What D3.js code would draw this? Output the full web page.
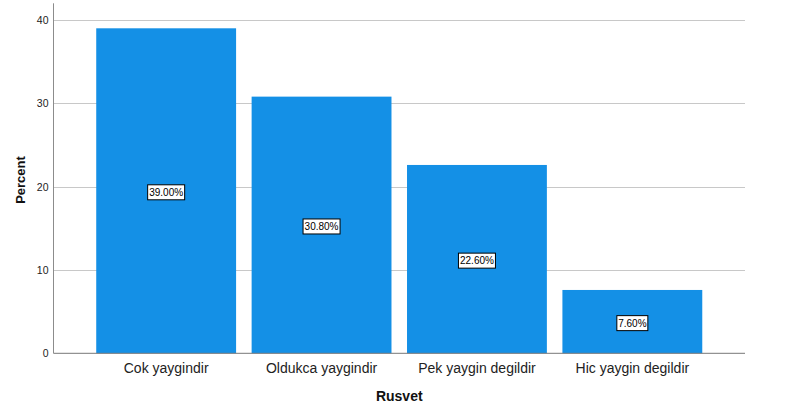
<!DOCTYPE html>
<html>
<head>
<meta charset="utf-8">
<script src="https://cdn.jsdelivr.net/npm/d3@7"></script>
<style>
  body { margin: 0; background: #fff; }
  text { font-family: "Liberation Sans", Arial, sans-serif; }
</style>
</head>
<body>
<div id="chart"></div>
<script>
// chart data
var categories = ["Cok yaygindir", "Oldukca yaygindir", "Pek yaygin degildir", "Hic yaygin degildir"];
var percents = [39.0, 30.8, 22.6, 7.6];
var yTicks = [0, 10, 20, 30, 40];

var data = categories.map(function(c, i) { return {cat: c, value: percents[i]}; });

var W = 785, H = 418;
// plot frame
var plot = {x0: 53.5, x1: 745, y0: 3.3, y1: 353.3};

var svg = d3.select("#chart")
  .append("svg")
    .attr("width", W)
    .attr("height", H);

var x = d3.scaleBand()
  .domain(categories)
  .range([plot.x0, plot.x1])
  .paddingInner(0.1)
  .paddingOuter(0.275);

var y = d3.scaleLinear()
  .domain([0, 42])
  .range([plot.y1, plot.y0]);

// grid lines
svg.append("g")
  .selectAll("line")
  .data(yTicks.filter(d => d > 0))
  .enter().append("line")
    .attr("x1", plot.x0)
    .attr("x2", plot.x1)
    .attr("y1", d => Math.round(y(d)) + 0.5)
    .attr("y2", d => Math.round(y(d)) + 0.5)
    .attr("stroke", "#c8c8c8")
    .attr("stroke-width", 1);

// bars
svg.append("g")
  .selectAll("rect")
  .data(data)
  .enter().append("rect")
    .attr("x", d => x(d.cat))
    .attr("y", d => y(d.value))
    .attr("width", x.bandwidth())
    .attr("height", d => y(0) - y(d.value))
    .attr("fill", "#1490e6");

// y axis
var yAxis = svg.append("g")
  .attr("transform", "translate(" + plot.x0 + ",0)")
  .call(d3.axisLeft(y).tickValues(yTicks).tickSize(0).tickPadding(5));
yAxis.select(".domain")
  .attr("d", "M0," + plot.y0 + "V" + plot.y1)
  .attr("stroke", "#8c8c8c");
yAxis.selectAll("text")
  .attr("font-size", "10.5px")
  .attr("fill", "#222");

// x axis
var xAxis = svg.append("g")
  .attr("transform", "translate(0," + plot.y1 + ")")
  .call(d3.axisBottom(x).tickSize(0).tickPadding(10));
xAxis.select(".domain")
  .attr("d", "M" + plot.x0 + ",0H" + plot.x1)
  .attr("stroke", "#777");
xAxis.selectAll("text")
  .attr("font-size", "14px")
  .attr("fill", "#222");

// value labels
var labels = svg.append("g")
  .selectAll("g")
  .data(data)
  .enter().append("g")
    .attr("transform", d => "translate(" + (x(d.cat) + x.bandwidth() / 2) + "," + ((y(d.value) + y(0)) / 2 + 1.5) + ")");

labels.append("rect")
  .attr("fill", "#fff")
  .attr("stroke", "#000")
  .attr("stroke-width", 1);

labels.append("text")
  .attr("text-anchor", "middle")
  .attr("dy", "0.35em")
  .attr("font-size", "10px")
  .attr("fill", "#000")
  .text(d => d.value.toFixed(2) + "%");

// fit box to text
labels.each(function() {
  var g = d3.select(this);
  var bb = g.select("text").node().getBBox();
  g.select("rect")
    .attr("x", Math.round(bb.x - 2) + 0.5)
    .attr("width", Math.round(bb.width + 3))
    .attr("y", -7.5)
    .attr("height", 15);
});

// axis titles
svg.append("text")
  .attr("text-anchor", "middle")
  .attr("x", (plot.x0 + plot.x1) / 2)
  .attr("y", 401)
  .attr("font-size", "14px")
  .attr("font-weight", "bold")
  .attr("fill", "#111")
  .text("Rusvet");

svg.append("text")
  .attr("text-anchor", "middle")
  .attr("transform", "translate(24.5,180) rotate(-90)")
  .attr("font-size", "13px")
  .attr("font-weight", "bold")
  .attr("fill", "#111")
  .text("Percent");
</script>
</body>
</html>
